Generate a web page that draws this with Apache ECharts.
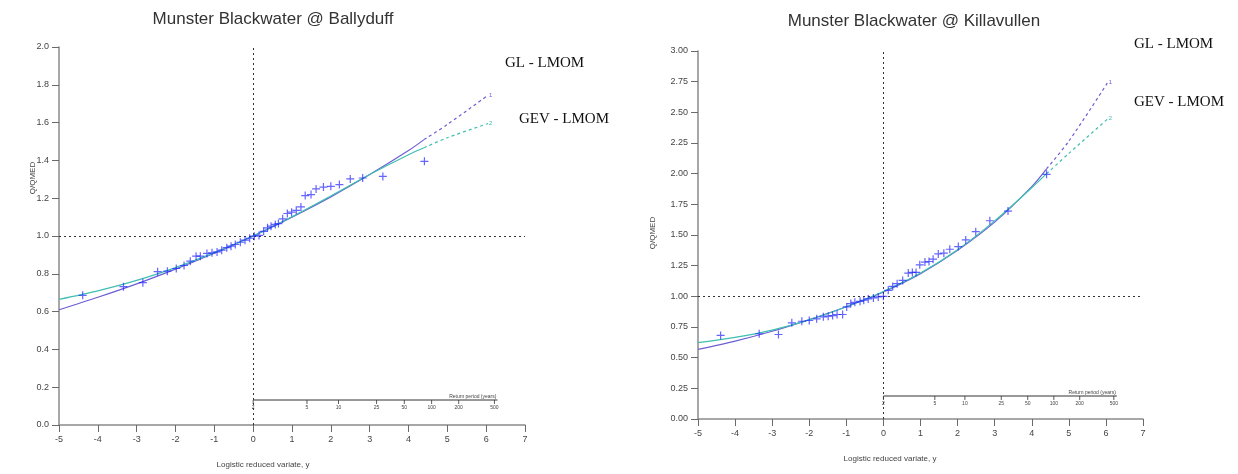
<!DOCTYPE html>
<html>
<head>
<meta charset="utf-8">
<title>Munster Blackwater growth curves</title>
<script src="https://cdn.jsdelivr.net/npm/echarts@6/dist/echarts.min.js"></script>
<style>
  html, body { margin: 0; padding: 0; background: #fff; }
  #chart { width: 1238px; height: 474px; }
</style>
</head>
<body>
<div id="chart"></div>
<script>
// 观测点（logistic reduced variate, Q/QMED）
const ballyObsY = [-4.39, -3.34, -2.84, -2.46, -2.21, -1.98, -1.78, -1.62, -1.47, -1.36, -1.19, -1.06, -0.93, -0.81, -0.68, -0.57, -0.46, -0.33, -0.21, -0.09, 0.03, 0.15, 0.27, 0.37, 0.46, 0.57, 0.65, 0.76, 0.88, 0.99, 1.11, 1.23, 1.34, 1.49, 1.62, 1.81, 2.00, 2.22, 2.50, 2.82, 3.34, 4.41];
const ballyObsQ = [0.686, 0.732, 0.753, 0.811, 0.814, 0.828, 0.844, 0.867, 0.893, 0.893, 0.908, 0.911, 0.916, 0.925, 0.938, 0.946, 0.955, 0.967, 0.978, 0.988, 0.999, 1.003, 1.025, 1.043, 1.052, 1.061, 1.066, 1.091, 1.119, 1.126, 1.136, 1.154, 1.214, 1.219, 1.249, 1.259, 1.263, 1.272, 1.302, 1.307, 1.315, 1.395];

const killaObsY = [-4.39, -3.35, -2.83, -2.47, -2.20, -2.00, -1.80, -1.62, -1.49, -1.37, -1.25, -1.10, -0.99, -0.88, -0.77, -0.63, -0.53, -0.41, -0.27, -0.14, 0.00, 0.13, 0.25, 0.37, 0.52, 0.67, 0.78, 0.88, 0.98, 1.12, 1.23, 1.34, 1.48, 1.63, 1.79, 2.02, 2.22, 2.49, 2.87, 3.36, 4.40];
const killaObsQ = [0.681, 0.695, 0.689, 0.784, 0.797, 0.803, 0.817, 0.833, 0.838, 0.843, 0.852, 0.852, 0.914, 0.941, 0.951, 0.959, 0.968, 0.979, 0.987, 0.995, 1.000, 1.049, 1.081, 1.103, 1.130, 1.190, 1.195, 1.195, 1.257, 1.279, 1.284, 1.303, 1.346, 1.352, 1.384, 1.406, 1.460, 1.527, 1.616, 1.695, 1.995];

// 拟合曲线（在 y = 4.4 之后为虚线外推）
const curveY = [-5, -4, -3, -2, -1, 0, 1, 2, 3, 4, 4.4, 5, 6.05];
const splitAt = 4.4;
const ballyGL  = [0.61, 0.676, 0.747, 0.825, 0.909, 1.0, 1.10, 1.207, 1.325, 1.452, 1.51, 1.59, 1.745];
const ballyGEV = [0.665, 0.71, 0.765, 0.833, 0.912, 1.0, 1.102, 1.212, 1.325, 1.43, 1.467, 1.52, 1.595];
const killaGL  = [0.568, 0.635, 0.715, 0.81, 0.915, 1.035, 1.185, 1.375, 1.605, 1.895, 2.04, 2.265, 2.744];
const killaGEV = [0.622, 0.665, 0.725, 0.808, 0.915, 1.04, 1.19, 1.38, 1.615, 1.885, 2.0, 2.165, 2.447];

// 重现期刻度
const returnPeriods = [2, 5, 10, 25, 50, 100, 200, 500];

const titles = ['Munster Blackwater @ Ballyduff', 'Munster Blackwater @ Killavullen'];
const GL_COLOR = '#6b5fd3';
const GEV_COLOR = '#3fbfb0';
const OBS_COLOR = 'rgba(30,30,255,0.85)';
const PLUS = 'path://M3.4,0H4.6V3.4H8V4.6H4.6V8H3.4V4.6H0V3.4H3.4Z';

function zip(xs, ys) {
    return xs.map((x, i) => [x, ys[i]]);
}

function curvePart(ys, solid) {
    return curveY.map((x, i) => [x, ys[i]])
        .filter(p => solid ? p[0] <= splitAt : p[0] >= splitAt);
}

function curveSeries(name, ys, color, idx, tag) {
    return [
        {
            name: name, type: 'line', xAxisIndex: idx, yAxisIndex: idx,
            data: curvePart(ys, true), smooth: 0.3, symbol: 'none',
            lineStyle: { color: color, width: 1.2 }, silent: true, z: 3
        },
        {
            name: name + ' ext', type: 'line', xAxisIndex: idx, yAxisIndex: idx,
            data: curvePart(ys, false), smooth: 0.3, symbol: 'none',
            lineStyle: { color: color, width: 1.2, type: [3, 3] }, silent: true, z: 3,
            endLabel: { show: true, formatter: tag, fontSize: 6, color: color, distance: 1 }
        }
    ];
}

// 重现期副轴，用自定义系列画在图内
function rpSeries(idx, rise) {
    const last = Math.log(returnPeriods[returnPeriods.length - 1] - 1);
    return {
        type: 'custom', xAxisIndex: idx, yAxisIndex: idx, silent: true, z: 4,
        data: returnPeriods.map(T => [Math.log(T - 1), T]),
        renderItem: function (params, api) {
            const p = api.coord([api.value(0), 0]);
            const yLine = p[1] - rise;
            const children = [
                { type: 'line', shape: { x1: p[0], y1: yLine, x2: p[0], y2: yLine + 4 },
                  style: { stroke: '#333', lineWidth: 0.8 } },
                { type: 'text', style: { text: String(api.value(1)), x: p[0], y: yLine + 5,
                  align: 'center', verticalAlign: 'top', font: '5px Arial', fill: '#444' } }
            ];
            if (params.dataIndex === 0) {
                const end = api.coord([last, 0]);
                children.push({ type: 'line', shape: { x1: p[0], y1: yLine, x2: end[0] + 3, y2: yLine },
                    style: { stroke: '#333', lineWidth: 1 } });
                children.push({ type: 'text', style: { text: 'Return period (years)', x: end[0] + 2, y: yLine - 1,
                    align: 'right', verticalAlign: 'bottom', font: '5px Arial', fill: '#444' } });
            }
            return { type: 'group', children: children };
        }
    };
}

function refLines(idx) {
    return {
        type: 'line', xAxisIndex: idx, yAxisIndex: idx, data: [], silent: true,
        markLine: {
            silent: true, symbol: 'none', label: { show: false },
            lineStyle: { color: '#333', type: [2, 3], width: 1 },
            data: [{ xAxis: 0 }, { yAxis: 1 }]
        }
    };
}

const axisCommon = {
    axisLine: { show: true, onZero: false, lineStyle: { color: '#8a8a8a', width: 1.5 } },
    axisTick: { show: true, inside: false, length: 7, lineStyle: { color: '#6a6a6a', width: 1 } },
    splitLine: { show: false },
    axisLabel: { fontSize: 9, color: '#444', fontFamily: 'Arial' }
};

const option = {
    animation: false,
    backgroundColor: '#fff',
    grid: [
        { left: 59, top: 47, width: 466, height: 378 },
        { left: 698, top: 51, width: 445, height: 368 }
    ],
    xAxis: [0, 1].map(i => Object.assign({}, axisCommon, {
        type: 'value', gridIndex: i, min: -5, max: 7, interval: 1,
        axisLabel: Object.assign({}, axisCommon.axisLabel, { margin: 10 })
    })),
    yAxis: [
        Object.assign({}, axisCommon, {
            type: 'value', gridIndex: 0, min: 0, max: 2, interval: 0.2,
            axisLabel: Object.assign({}, axisCommon.axisLabel, { margin: 10, formatter: v => v.toFixed(1) })
        }),
        Object.assign({}, axisCommon, {
            type: 'value', gridIndex: 1, min: 0, max: 3, interval: 0.25,
            axisLabel: Object.assign({}, axisCommon.axisLabel, { margin: 10, formatter: v => v.toFixed(2) })
        })
    ],
    graphic: [
        { type: 'text', style: { text: titles[0], font: '17px Arial', fill: '#333', x: 273, y: 19, align: 'center', verticalAlign: 'middle' } },
        { type: 'text', style: { text: titles[1], font: '17px Arial', fill: '#333', x: 914, y: 21, align: 'center', verticalAlign: 'middle' } },
        { type: 'text', style: { text: 'GL - LMOM', font: '15px "Liberation Serif"', fill: '#111', x: 505, y: 63, verticalAlign: 'middle' } },
        { type: 'text', style: { text: 'GEV - LMOM', font: '15px "Liberation Serif"', fill: '#111', x: 519, y: 119, verticalAlign: 'middle' } },
        { type: 'text', style: { text: 'GL - LMOM', font: '15px "Liberation Serif"', fill: '#111', x: 1134, y: 44, verticalAlign: 'middle' } },
        { type: 'text', style: { text: 'GEV - LMOM', font: '15px "Liberation Serif"', fill: '#111', x: 1134, y: 102, verticalAlign: 'middle' } },
        { type: 'text', x: 33, y: 178, rotation: Math.PI / 2, style: { text: 'Q/QMED', font: '8px Arial', fill: '#444', align: 'center', verticalAlign: 'middle' } },
        { type: 'text', x: 653, y: 233, rotation: Math.PI / 2, style: { text: 'Q/QMED', font: '8px Arial', fill: '#444', align: 'center', verticalAlign: 'middle' } },
        { type: 'text', style: { text: 'Logistic reduced variate, y', font: '8px Arial', fill: '#444', x: 263, y: 465, align: 'center', verticalAlign: 'middle' } },
        { type: 'text', style: { text: 'Logistic reduced variate, y', font: '8px Arial', fill: '#444', x: 890, y: 459, align: 'center', verticalAlign: 'middle' } }
    ],
    series: [
        refLines(0),
        refLines(1),
        ...curveSeries('GL', ballyGL, GL_COLOR, 0, '1'),
        ...curveSeries('GEV', ballyGEV, GEV_COLOR, 0, '2'),
        ...curveSeries('GL', killaGL, GL_COLOR, 1, '1'),
        ...curveSeries('GEV', killaGEV, GEV_COLOR, 1, '2'),
        {
            name: 'Ballyduff obs', type: 'scatter', xAxisIndex: 0, yAxisIndex: 0,
            data: zip(ballyObsY, ballyObsQ), symbol: PLUS, symbolSize: 8,
            itemStyle: { color: OBS_COLOR }, z: 5
        },
        {
            name: 'Killavullen obs', type: 'scatter', xAxisIndex: 1, yAxisIndex: 1,
            data: zip(killaObsY, killaObsQ), symbol: PLUS, symbolSize: 8,
            itemStyle: { color: OBS_COLOR }, z: 5
        },
        rpSeries(0, 25),
        rpSeries(1, 23)
    ]
};

const chart = echarts.init(document.getElementById('chart'), null, { renderer: 'canvas' });
chart.setOption(option);
</script>
</body>
</html>
